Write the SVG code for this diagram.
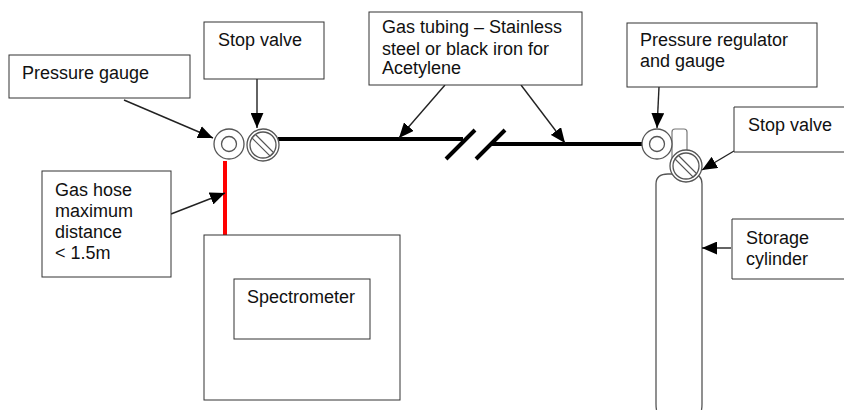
<svg xmlns="http://www.w3.org/2000/svg" width="844" height="410" viewBox="0 0 844 410">
<defs>
<style>
.box{fill:#fff;stroke:#333;stroke-width:1}
.t{font-family:"Liberation Sans",Arial,sans-serif;font-size:18px;fill:#111}
.c{fill:#fff;stroke:#555;stroke-width:1.3}
.pipe{fill:none;stroke:#000;stroke-width:4}
.ar{stroke:#222;stroke-width:1.4;fill:none;marker-end:url(#a)}
</style>
<marker id="a" markerUnits="userSpaceOnUse" markerWidth="15" markerHeight="13" refX="14" refY="6" orient="auto" viewBox="0 0 14 12"><path d="M0 0L14 6L0 12Z" fill="#000"/></marker>
</defs>
<rect width="844" height="410" fill="#fff"/>
<g id="cylinder">
<rect x="672" y="129" width="15" height="40" rx="3" fill="#fff" stroke="#777" stroke-width="1.2"/>
<path d="M656.500 410Q656 408 656 404V184Q656 174 668 174H692Q702 174 702 184V404Q702 408 701.500 410" fill="#fff" stroke="#555" stroke-width="1.3"/>
</g>
<g id="connectors">
<path class="pipe" d="M278 139H463"/>
<path class="pipe" d="M492 144H642"/>
<path d="M446 159L475 130M476 159L505 130" fill="none" stroke="#000" stroke-width="4"/>
<path d="M225 161V236" fill="none" stroke="#f00" stroke-width="4"/>
<path class="ar" d="M124 100L213 138"/>
<path class="ar" d="M257 56V128"/>
<path class="ar" d="M445 85L399 138"/>
<path class="ar" d="M521 85L565 143"/>
<path class="ar" d="M659 87L657 128"/>
<path class="ar" d="M734 151L702 170"/>
<path class="ar" d="M731 248H702"/>
<path class="ar" d="M171 214L225 193"/>
</g>
<g id="pressure-gauge"><rect class="box" x="9" y="55" width="181" height="43"/><text class="t" x="22" y="79">Pressure gauge</text></g>
<g id="stop-valve-1"><rect class="box" x="204" y="22" width="120" height="57"/><text class="t" x="218" y="46">Stop valve</text></g>
<g id="gas-tubing"><rect class="box" x="369" y="12" width="213" height="73"/><text class="t" x="382" y="33">Gas tubing – Stainless</text><text class="t" x="382" y="55">steel or black iron for</text><text class="t" x="382" y="74">Acetylene</text></g>
<g id="regulator"><rect class="box" x="627" y="23" width="190" height="64"/><text class="t" x="640" y="46">Pressure regulator</text><text class="t" x="640" y="67">and gauge</text></g>
<g id="stop-valve-2"><path class="box" d="M844 107H734V152H844"/><text class="t" x="748" y="131">Stop valve</text></g>
<g id="storage"><path class="box" d="M844 219H732V279H844"/><text class="t" x="746" y="244">Storage</text><text class="t" x="746" y="265">cylinder</text></g>
<g id="gas-hose"><rect class="box" x="42" y="171" width="129" height="106"/><text class="t" x="55" y="196">Gas hose</text><text class="t" x="55" y="217">maximum</text><text class="t" x="55" y="238">distance</text><text class="t" x="55" y="259">&lt; 1.5m</text></g>
<g id="spectrometer"><rect class="box" x="204" y="235" width="196" height="165"/><rect class="box" x="234" y="279" width="136" height="60"/><text class="t" x="247" y="303">Spectrometer</text></g>
<g id="gauge-left"><circle class="c" cx="229" cy="144" r="15"/><circle class="c" cx="229" cy="144" r="7.500"/></g>
<g id="valve-left"><circle class="c" cx="263" cy="145" r="16"/><circle class="c" cx="263" cy="145" r="13"/><path d="M255.500 134.500L273.500 152.500L270 156L252 138Z" fill="#fff" stroke="#555" stroke-width="1.2"/></g>
<g id="gauge-right"><circle class="c" cx="657" cy="144" r="15"/><circle class="c" cx="657" cy="144" r="7.500"/></g>
<g id="valve-right"><circle class="c" cx="686" cy="166" r="16"/><circle class="c" cx="686" cy="166" r="13"/><path d="M678.500 155.500L696.500 173.500L693 177L675 159Z" fill="#fff" stroke="#555" stroke-width="1.2"/></g>
</svg>
